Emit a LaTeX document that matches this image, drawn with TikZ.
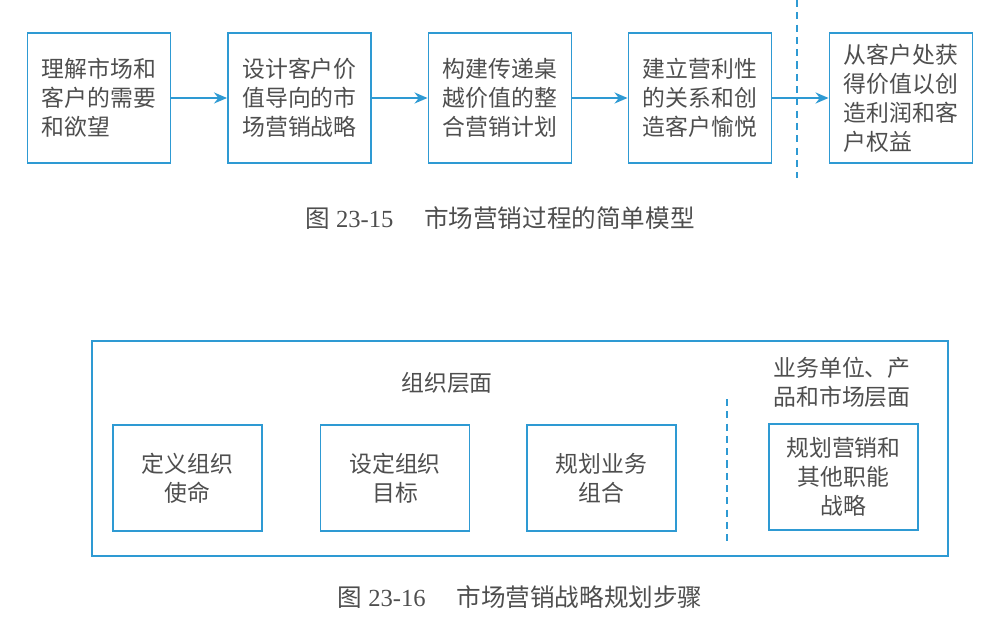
\documentclass[tikz,border=0pt]{standalone}
\usepackage{fontspec}
\setmainfont{Liberation Serif}
\newfontfamily\cjk{Noto Sans CJK SC}
\usetikzlibrary{arrows.meta,positioning}
\definecolor{boxblue}{HTML}{2E9AD3}
\definecolor{inkgray}{HTML}{4E4E4E}

\begin{document}
\begin{tikzpicture}[
  x=0.02cm,y=-0.02cm,
  stage/.style={draw=boxblue,line width=1.1pt,minimum width=2.86cm,
    minimum height=2.6cm,align=left,inner sep=0pt,text=inkgray,
    font=\cjk\fontsize{13}{16.5}\selectfont},
  level/.style={draw=boxblue,line width=1.1pt,minimum width=2.98cm,
    minimum height=2.12cm,align=center,inner sep=0pt,text=inkgray,
    font=\cjk\fontsize{13}{16.5}\selectfont},
  tag/.style={align=center,text=inkgray,
    font=\cjk\fontsize{13}{16.5}\selectfont},
  caption/.style={text=inkgray,font=\fontsize{14}{17}\selectfont},
  flow/.style={-{Stealth[length=2.6mm,width=2.2mm]},line width=1.1pt,boxblue},
  split/.style={dashed,line width=0.9pt,boxblue,dash pattern=on 4pt off 3pt}
]
  \path[use as bounding box] (0,0) rectangle (996,641);

  % marketing process
  \node[stage] (m1) at (99,98) {理解市场和\\客户的需要\\和欲望};
  \node[stage] (m2) at (299.5,98) {设计客户价\\值导向的市\\场营销战略};
  \node[stage] (m3) at (500,98) {构建传递桌\\越价值的整\\合营销计划};
  \node[stage] (m4) at (700,98) {建立营利性\\的关系和创\\造客户愉悦};
  \node[stage] (m5) at (901,98) {从客户处获\\得价值以创\\造利润和客\\户权益};
  \draw[flow] (m1) -- (m2);
  \draw[flow] (m2) -- (m3);
  \draw[flow] (m3) -- (m4);
  \draw[flow] (m4) -- (m5);
  \coordinate (cuttop) at (797,0);
  \coordinate (cutbot) at (797,178);
  \draw[split] (cuttop) -- (cutbot);
  \node[caption] (cap1) at (500,218)
    {{\cjk 图}~23-15\quad\ {\cjk 市场营销过程的简单模型}};

  % planning steps
  \node[draw=boxblue,line width=1.1pt,minimum width=17.12cm,
    minimum height=4.3cm,inner sep=0pt] (frame) at (520,448.5) {};
  \node[tag] (orgtag) at (447,383) {组织层面};
  \node[tag] (unittag) at (842,382) {业务单位、产\\品和市场层面};
  \node[level] (p1) at (187.5,478) {定义组织\\使命};
  \node[level] (p2) at (395,478) {设定组织\\目标};
  \node[level] (p3) at (601.5,478) {规划业务\\组合};
  \node[level] (p4) at (843.5,477) {规划营销和\\其他职能\\战略};
  \coordinate (divtop) at (727,399);
  \coordinate (divbot) at (727,541);
  \draw[split] (divtop) -- (divbot);
  \node[caption] (cap2) at (520,597)
    {{\cjk 图}~23-16\quad\ {\cjk 市场营销战略规划步骤}};
\end{tikzpicture}
\end{document}
